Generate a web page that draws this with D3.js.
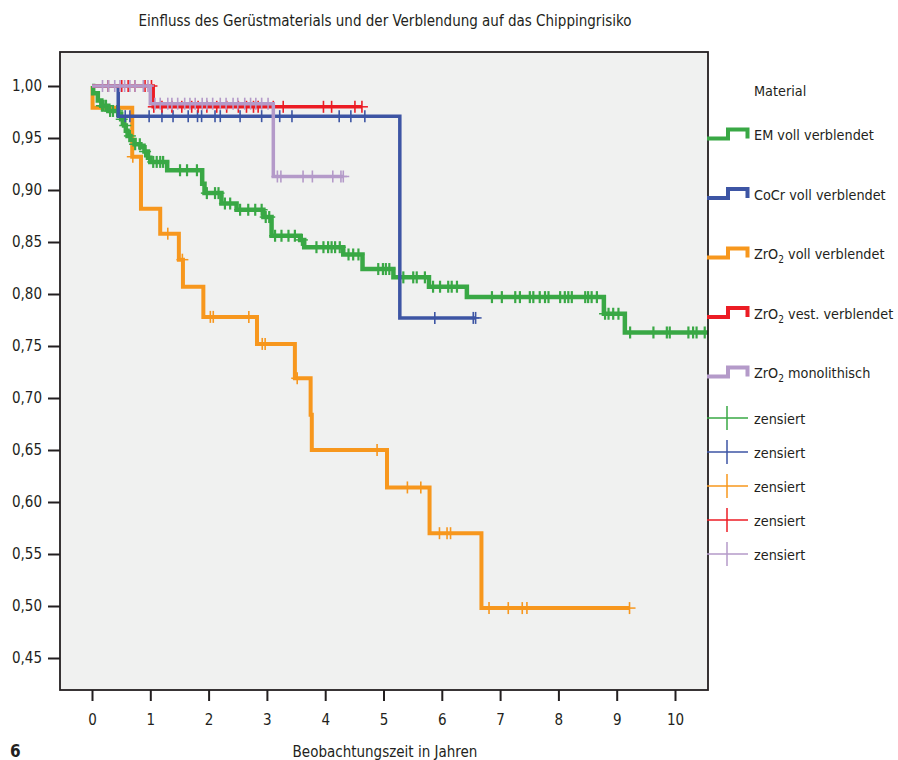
<!DOCTYPE html>
<html>
  <head>
    <meta charset="utf-8">
    <script src="https://d3js.org/d3.v7.min.js"></script>
    <style>
      body { margin: 0px; background: #fff; }
      text {
        font-family: "Liberation Sans Narrow", "DejaVu Sans Condensed", sans-serif;
        fill: #231f20;
      }
      .domain { display: none; }
      .tick line { stroke: #231f20; stroke-width: 2; }
      .tick text { font-size: 15px; }
      .legend text { font-size: 14.3px; }
    </style>
  </head>
  <body>
    <svg width="898" height="760"></svg>
    <script>
      // Kaplan-Meier steps: [time, survival after drop], censored times, last time
      const emSteps = [[0,1],[0.02,0.993],[0.10,0.986],[0.16,0.981],[0.28,0.976],[0.45,0.973],[0.50,0.968],
        [0.55,0.962],[0.58,0.957],[0.61,0.952],[0.66,0.948],[0.73,0.944],[0.83,0.941],[0.90,0.937],
        [0.96,0.931],[1.00,0.927],[1.29,0.919],[1.89,0.906],[1.93,0.897],[2.22,0.887],[2.48,0.881],
        [2.94,0.874],[3.08,0.856],[3.57,0.852],[3.64,0.845],[4.31,0.838],[4.64,0.824],[5.17,0.816],
        [5.78,0.807],[6.43,0.797],[8.78,0.781],[9.14,0.763]];
      const emCensored = [0.17,0.2,0.24,0.31,0.36,0.43,0.51,0.57,0.65,0.74,0.82,0.91,1.05,1.11,1.17,1.22,
        1.51,1.63,1.80,1.97,2.11,2.17,2.28,2.37,2.54,2.68,2.80,2.91,2.98,3.04,3.14,3.25,3.37,3.48,3.60,
        3.85,3.97,4.05,4.11,4.17,4.25,4.40,4.48,4.57,4.91,4.99,5.04,5.10,5.34,5.51,5.57,5.71,5.85,5.97,
        6.11,6.17,6.26,6.86,7.03,7.26,7.34,7.51,7.57,7.68,7.77,7.83,8.03,8.11,8.17,8.23,8.46,8.51,8.57,
        8.66,8.80,8.86,8.94,9.03,9.23,9.63,9.86,9.91,10.23,10.31,10.37,10.51];
      const emEnd = 10.7;

      const cocrSteps = [[0,1],[0.45,0.971],[5.28,0.777]];
      const cocrCensored = [0.28,0.57,0.65,0.98,1.20,1.39,1.65,1.81,1.88,2.11,2.20,2.54,2.91,3.11,3.22,
        3.43,4.24,4.44,4.68,5.88,6.54,6.58];
      const cocrEnd = 6.58;

      const zrVollSteps = [[0,1],[0.01,0.979],[0.69,0.932],[0.84,0.882],[1.17,0.858],[1.49,0.833],
        [1.56,0.807],[1.91,0.778],[2.83,0.752],[3.48,0.719],[3.75,0.684],[3.77,0.650],[5.06,0.614],
        [5.79,0.570],[6.68,0.498]];
      const zrVollCensored = [0.70,1.30,1.55,2.03,2.08,2.69,2.92,2.97,3.52,4.89,5.41,5.64,5.96,6.09,6.15,
        6.81,7.14,7.38,7.46,9.22];
      const zrVollEnd = 9.22;

      const zrVestSteps = [[0,1],[1.05,0.980]];
      const zrVestCensored = [0.28,0.51,0.62,0.74,0.91,1.02,1.06,1.2,1.37,1.54,1.71,1.82,1.97,2.14,2.31,
        2.51,2.65,2.77,2.85,3.11,3.28,3.97,4.11,4.51,4.63];
      const zrVestEnd = 4.63;

      const zrMonoSteps = [[0,1],[1.0,0.983],[3.11,0.913]];
      const zrMonoCensored = [0.18,0.28,0.39,0.48,0.56,0.65,0.74,0.88,0.96,1.08,1.17,1.30,1.37,1.47,1.59,
        1.68,1.77,1.89,1.97,2.07,2.20,2.30,2.42,2.50,2.62,2.72,2.81,2.91,3.02,3.18,3.24,3.62,3.78,4.13,
        4.27,4.31];
      const zrMonoEnd = 4.31;

      const xTicks = [0,1,2,3,4,5,6,7,8,9,10];
      const yTicks = [1.00,0.95,0.90,0.85,0.80,0.75,0.70,0.65,0.60,0.55,0.50,0.45];
      const legendLabels = ['EM voll verblendet','CoCr voll verblendet','ZrO2 voll verblendet',
        'ZrO2 vest. verblendet','ZrO2 monolithisch'];
      const colors = ['#39a845','#3d55a4','#f7971d','#ec1c24','#b49ac9'];

      const series = [
        { steps: emSteps, censored: emCensored, end: emEnd, color: colors[0], w: 4.5, cw: 2.2 },
        { steps: cocrSteps, censored: cocrCensored, end: cocrEnd, color: colors[1], w: 3.5, cw: 1.6 },
        { steps: zrVollSteps, censored: zrVollCensored, end: zrVollEnd, color: colors[2], w: 4, cw: 1.6 },
        { steps: zrVestSteps, censored: zrVestCensored, end: zrVestEnd, color: colors[3], w: 3.5, cw: 1.6 },
        { steps: zrMonoSteps, censored: zrMonoCensored, end: zrMonoEnd, color: colors[4], w: 3.5, cw: 1.6 }
      ];
      const drawOrder = [2, 0, 1, 3, 4];

      const svg = d3.select('svg');
      const plot = { left: 60, top: 52, right: 708, bottom: 690 };

      const xScale = d3.scaleLinear().domain([0, 10]).range([92, 675]);
      const yScale = d3.scaleLinear().domain([1, 0.45]).range([86, 658]);

      svg.append('text')
          .attr('x', 385)
          .attr('y', 26)
          .attr('text-anchor', 'middle')
          .style('font-size', '15px')
          .text('Einfluss des Gerüstmaterials und der Verblendung auf das Chippingrisiko');

      svg.append('rect')
          .attr('x', plot.left)
          .attr('y', plot.top)
          .attr('width', plot.right - plot.left)
          .attr('height', plot.bottom - plot.top)
          .attr('fill', '#f0f1f0');

      svg.append('clipPath')
          .attr('id', 'clip')
        .append('rect')
          .attr('x', plot.left)
          .attr('y', plot.top)
          .attr('width', plot.right - plot.left)
          .attr('height', plot.bottom - plot.top);

      const sAt = (steps, t) => {
        let s = 1;
        steps.forEach(([st, sv]) => { if (st <= t) s = sv; });
        return s;
      };

      const line = d3.line()
          .x(d => xScale(d[0]))
          .y(d => yScale(d[1]))
          .curve(d3.curveStepAfter);

      const curvesG = svg.append('g').attr('clip-path', 'url(#clip)');

      drawOrder.forEach(i => {
        const s = series[i];
        const pts = s.steps.concat([[s.end, s.steps[s.steps.length - 1][1]]]);
        const g = curvesG.append('g');
        g.append('path')
            .datum(pts)
            .attr('fill', 'none')
            .attr('stroke', s.color)
            .attr('stroke-width', s.w)
            .attr('d', line);
        const marks = g.selectAll('g.cens').data(s.censored)
          .enter().append('g')
            .attr('transform', t => `translate(${xScale(t)},${yScale(sAt(s.steps, t))})`)
            .attr('stroke', s.color)
            .attr('stroke-width', s.cw);
        marks.append('line').attr('x1', 0).attr('x2', 0).attr('y1', -6).attr('y2', 6);
        marks.append('line').attr('x1', -6).attr('x2', 6).attr('y1', 0).attr('y2', 0)
            .attr('stroke-width', 1.5);
      });

      svg.append('rect')
          .attr('x', plot.left)
          .attr('y', plot.top)
          .attr('width', plot.right - plot.left)
          .attr('height', plot.bottom - plot.top)
          .attr('fill', 'none')
          .attr('stroke', '#231f20')
          .attr('stroke-width', 1.8);

      const yAxis = d3.axisLeft(yScale)
          .tickValues(yTicks)
          .tickSize(12)
          .tickPadding(6)
          .tickFormat(d => d3.format('.2f')(d).replace('.', ','));
      svg.append('g')
          .attr('transform', `translate(${plot.left},0)`)
          .call(yAxis);

      const xAxis = d3.axisBottom(xScale)
          .tickValues(xTicks)
          .tickSize(11)
          .tickPadding(13)
          .tickFormat(d3.format('d'));
      svg.append('g')
          .attr('transform', `translate(0,${plot.bottom})`)
          .call(xAxis);

      svg.append('text')
          .attr('x', 385)
          .attr('y', 757)
          .attr('text-anchor', 'middle')
          .style('font-size', '15px')
          .text('Beobachtungszeit in Jahren');

      svg.append('text')
          .attr('x', 10)
          .attr('y', 757)
          .style('font-size', '17px')
          .style('font-weight', 'bold')
          .text('6');

      // legend
      const legend = svg.append('g').attr('class', 'legend');
      legend.append('text')
          .attr('x', 754)
          .attr('y', 96)
          .text('Material');

      const addLabel = (sel, label) => {
        if (label.startsWith('ZrO2')) {
          sel.append('tspan').text('ZrO');
          sel.append('tspan').attr('dy', 4).style('font-size', '10px').text('2');
          sel.append('tspan').attr('dy', -4).text(label.slice(4));
        } else {
          sel.text(label);
        }
      };

      legendLabels.forEach((label, i) => {
        const by = 140 + i * 59.5;
        legend.append('path')
            .attr('d', `M707,${by - 1.5}H728V${by - 10.5}H747.5V${by - 1.5}`)
            .attr('fill', 'none')
            .attr('stroke', colors[i])
            .attr('stroke-width', 4);
        addLabel(legend.append('text').attr('x', 754).attr('y', by), label);
      });

      legendLabels.forEach((label, i) => {
        const cy = 418 + i * 34;
        const g = legend.append('g')
            .attr('stroke', colors[i])
            .attr('stroke-width', 1.5);
        g.append('line').attr('x1', 707).attr('x2', 748).attr('y1', cy).attr('y2', cy);
        g.append('line').attr('x1', 727).attr('x2', 727).attr('y1', cy - 12).attr('y2', cy + 12);
        legend.append('text')
            .attr('x', 754)
            .attr('y', cy + 6)
            .text('zensiert');
      });
    </script>
  </body>
</html>
